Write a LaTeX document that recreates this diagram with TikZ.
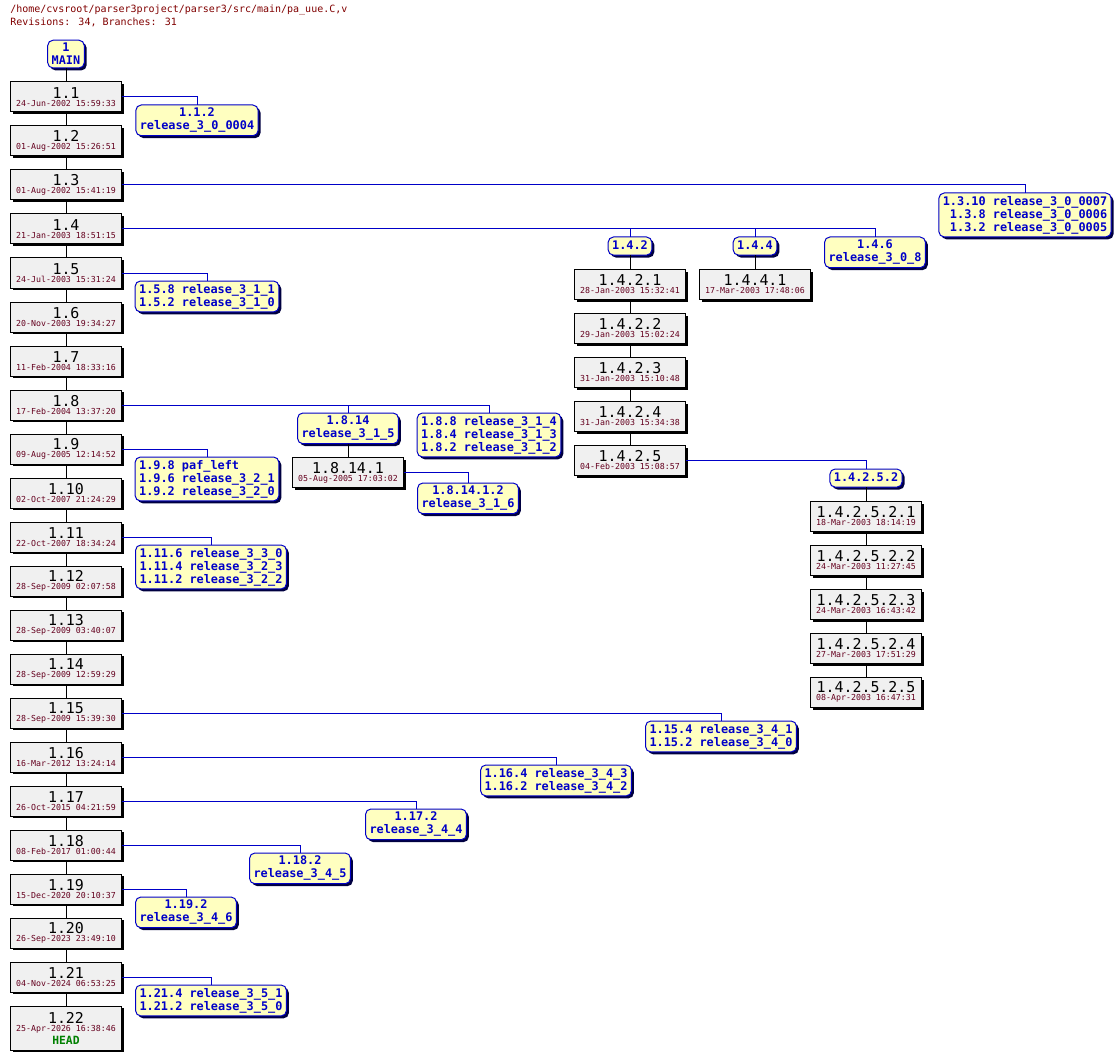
\documentclass[tikz,border=0pt]{standalone}
\usepackage{fontspec}
\setmainfont{DejaVu Sans Mono}
\usetikzlibrary{positioning,shadows}

\definecolor{revfill}{RGB}{240,240,240}
\definecolor{tagfill}{RGB}{255,255,192}
\definecolor{tagblue}{RGB}{0,0,200}
\definecolor{datered}{RGB}{100,0,30}
\definecolor{titlered}{RGB}{128,0,0}
\definecolor{headgreen}{RGB}{0,128,0}

\newcommand{\revtext}[2]{#1\\{\fontsize{6.2}{6}\selectfont\color{datered}#2}}

\begin{document}
\begin{tikzpicture}[
        x=0.75pt, y=-0.75pt,
        node distance=10.5pt,
        rev/.style={draw, fill=revfill, line width=0.75pt, outer sep=0pt,
            minimum width=83.25pt, minimum height=22.5pt, inner sep=1pt, align=center,
            font=\fontsize{11.2}{6.2}\selectfont,
            drop shadow={shadow xshift=1.8pt, shadow yshift=-1.8pt, opacity=1, fill=black}},
        tag/.style={draw=tagblue, fill=tagfill, text=tagblue, line width=0.75pt, outer sep=0pt,
            rounded corners=4pt, inner xsep=3pt, inner ysep=2.3pt, align=center, anchor=north,
            font=\fontsize{8.9}{9.75}\selectfont\bfseries,
            drop shadow={shadow xshift=1.8pt, shadow yshift=-1.8pt, opacity=1, fill=black!75!blue}},
        tagone/.style={tag, text height=6.8pt, text depth=2.2pt},
        taglist/.style={tag, align=left},
        trunk/.style={line width=0.75pt},
        branch/.style={draw=tagblue, line width=0.75pt}
    ]
        \useasboundingbox (0,0) rectangle (1120,1059);

        \node[anchor=north west, align=left, inner sep=0pt, text=titlered,
            font=\fontsize{7.5}{9.75}\selectfont] (title) at (10,5)
            {/home/cvsroot/parser3project/parser3/src/main/pa\_uue.C,v\\Revisions: 34, Branches: 31};

        \node[rev] (v1-1) at (66,97) {\revtext{1.1}{24-Jun-2002 15:59:33}};
        \node[tag, above=of v1-1] (main) {1\\MAIN};
        \node[rev, below=of v1-1] (v1-2) {\revtext{1.2}{01-Aug-2002 15:26:51}};
        \node[rev, below=of v1-2] (v1-3) {\revtext{1.3}{01-Aug-2002 15:41:19}};
        \node[rev, below=of v1-3] (v1-4) {\revtext{1.4}{21-Jan-2003 18:51:15}};
        \node[rev, below=of v1-4] (v1-5) {\revtext{1.5}{24-Jul-2003 15:31:24}};
        \node[rev, below=of v1-5] (v1-6) {\revtext{1.6}{20-Nov-2003 19:34:27}};
        \node[rev, below=of v1-6] (v1-7) {\revtext{1.7}{11-Feb-2004 18:33:16}};
        \node[rev, below=of v1-7] (v1-8) {\revtext{1.8}{17-Feb-2004 13:37:20}};
        \node[rev, below=of v1-8] (v1-9) {\revtext{1.9}{09-Aug-2005 12:14:52}};
        \node[rev, below=of v1-9] (v1-10) {\revtext{1.10}{02-Oct-2007 21:24:29}};
        \node[rev, below=of v1-10] (v1-11) {\revtext{1.11}{22-Oct-2007 18:34:24}};
        \node[rev, below=of v1-11] (v1-12) {\revtext{1.12}{28-Sep-2009 02:07:58}};
        \node[rev, below=of v1-12] (v1-13) {\revtext{1.13}{28-Sep-2009 03:40:07}};
        \node[rev, below=of v1-13] (v1-14) {\revtext{1.14}{28-Sep-2009 12:59:29}};
        \node[rev, below=of v1-14] (v1-15) {\revtext{1.15}{28-Sep-2009 15:39:30}};
        \node[rev, below=of v1-15] (v1-16) {\revtext{1.16}{16-Mar-2012 13:24:14}};
        \node[rev, below=of v1-16] (v1-17) {\revtext{1.17}{26-Oct-2015 04:21:59}};
        \node[rev, below=of v1-17] (v1-18) {\revtext{1.18}{08-Feb-2017 01:00:44}};
        \node[rev, below=of v1-18] (v1-19) {\revtext{1.19}{15-Dec-2020 20:10:37}};
        \node[rev, below=of v1-19] (v1-20) {\revtext{1.20}{26-Sep-2023 23:49:10}};
        \node[rev, below=of v1-20] (v1-21) {\revtext{1.21}{04-Nov-2024 06:53:25}};
        \node[rev, minimum height=33pt, below=of v1-21] (v1-22)
            {\revtext{1.22}{25-Apr-2026 16:38:46}\\[1pt]{\fontsize{8.5}{9}\selectfont\bfseries\color{headgreen}HEAD}};

        \node[tag] (b1-1-2) at (197,105) {1.1.2\\release\_3\_0\_0004};
        \node[taglist] (b1-3-10) at (1025,193)
            {1.3.10 release\_3\_0\_0007\\\hphantom{1}1.3.8 release\_3\_0\_0006\\\hphantom{1}1.3.2 release\_3\_0\_0005};
        \node[tagone] (b1-4-2) at (630,237) {1.4.2};
        \node[tagone] (b1-4-4) at (755,237) {1.4.4};
        \node[tag] (b1-4-6) at (875,237) {1.4.6\\release\_3\_0\_8};
        \node[taglist] (b1-5-8) at (207,281) {1.5.8 release\_3\_1\_1\\1.5.2 release\_3\_1\_0};
        \node[tag] (b1-8-14) at (348,413) {1.8.14\\release\_3\_1\_5};
        \node[taglist] (b1-8-8) at (489,413)
            {1.8.8 release\_3\_1\_4\\1.8.4 release\_3\_1\_3\\1.8.2 release\_3\_1\_2};
        \node[taglist] (b1-9-8) at (207,457)
            {1.9.8 paf\_left\\1.9.6 release\_3\_2\_1\\1.9.2 release\_3\_2\_0};
        \node[taglist] (b1-11-6) at (211,545)
            {1.11.6 release\_3\_3\_0\\1.11.4 release\_3\_2\_3\\1.11.2 release\_3\_2\_2};
        \node[taglist] (b1-15-4) at (721,721) {1.15.4 release\_3\_4\_1\\1.15.2 release\_3\_4\_0};
        \node[taglist] (b1-16-4) at (556,765) {1.16.4 release\_3\_4\_3\\1.16.2 release\_3\_4\_2};
        \node[tag] (b1-17-2) at (416,809) {1.17.2\\release\_3\_4\_4};
        \node[tag] (b1-18-2) at (300,853) {1.18.2\\release\_3\_4\_5};
        \node[tag] (b1-19-2) at (186,897) {1.19.2\\release\_3\_4\_6};
        \node[taglist] (b1-21-4) at (211,985) {1.21.4 release\_3\_5\_1\\1.21.2 release\_3\_5\_0};

        \node[rev, below=of b1-4-2] (v1-4-2-1) {\revtext{1.4.2.1}{28-Jan-2003 15:32:41}};
        \node[rev, below=of v1-4-2-1] (v1-4-2-2) {\revtext{1.4.2.2}{29-Jan-2003 15:02:24}};
        \node[rev, below=of v1-4-2-2] (v1-4-2-3) {\revtext{1.4.2.3}{31-Jan-2003 15:10:48}};
        \node[rev, below=of v1-4-2-3] (v1-4-2-4) {\revtext{1.4.2.4}{31-Jan-2003 15:34:38}};
        \node[rev, below=of v1-4-2-4] (v1-4-2-5) {\revtext{1.4.2.5}{04-Feb-2003 15:08:57}};
        \node[rev, below=of b1-4-4] (v1-4-4-1) {\revtext{1.4.4.1}{17-Mar-2003 17:48:06}};
        \node[rev, below=of b1-8-14] (v1-8-14-1) {\revtext{1.8.14.1}{05-Aug-2005 17:03:02}};
        \node[tag] (b1-8-14-1-2) at (468,483) {1.8.14.1.2\\release\_3\_1\_6};
        \node[tagone] (b1-4-2-5-2) at (866,469) {1.4.2.5.2};
        \node[rev, below=of b1-4-2-5-2] (v1-4-2-5-2-1) {\revtext{1.4.2.5.2.1}{18-Mar-2003 18:14:19}};
        \node[rev, below=of v1-4-2-5-2-1] (v1-4-2-5-2-2) {\revtext{1.4.2.5.2.2}{24-Mar-2003 11:27:45}};
        \node[rev, below=of v1-4-2-5-2-2] (v1-4-2-5-2-3) {\revtext{1.4.2.5.2.3}{24-Mar-2003 16:43:42}};
        \node[rev, below=of v1-4-2-5-2-3] (v1-4-2-5-2-4) {\revtext{1.4.2.5.2.4}{27-Mar-2003 17:51:29}};
        \node[rev, below=of v1-4-2-5-2-4] (v1-4-2-5-2-5) {\revtext{1.4.2.5.2.5}{08-Apr-2003 16:47:31}};

        \draw[trunk] (main) -- (v1-1) -- (v1-2) -- (v1-3) -- (v1-4) -- (v1-5) -- (v1-6) -- (v1-7)
            -- (v1-8) -- (v1-9) -- (v1-10) -- (v1-11) -- (v1-12) -- (v1-13) -- (v1-14) -- (v1-15)
            -- (v1-16) -- (v1-17) -- (v1-18) -- (v1-19) -- (v1-20) -- (v1-21) -- (v1-22);
        \draw[trunk] (b1-4-2) -- (v1-4-2-1) -- (v1-4-2-2) -- (v1-4-2-3) -- (v1-4-2-4) -- (v1-4-2-5);
        \draw[trunk] (b1-4-4) -- (v1-4-4-1);
        \draw[trunk] (b1-8-14) -- (v1-8-14-1);
        \draw[trunk] (b1-4-2-5-2) -- (v1-4-2-5-2-1) -- (v1-4-2-5-2-2) -- (v1-4-2-5-2-3)
            -- (v1-4-2-5-2-4) -- (v1-4-2-5-2-5);

        \draw[branch] (v1-1) -| (b1-1-2);
        \draw[branch] (v1-3) -| (b1-3-10);
        \draw[branch] (v1-4) -| (b1-4-6);
        \draw[branch] (v1-4) -| (b1-4-4);
        \draw[branch] (v1-4) -| (b1-4-2);
        \draw[branch] (v1-5) -| (b1-5-8);
        \draw[branch] (v1-8) -| (b1-8-8);
        \draw[branch] (v1-8) -| (b1-8-14);
        \draw[branch] (v1-8-14-1) -| (b1-8-14-1-2);
        \draw[branch] (v1-4-2-5) -| (b1-4-2-5-2);
        \draw[branch] (v1-9) -| (b1-9-8);
        \draw[branch] (v1-11) -| (b1-11-6);
        \draw[branch] (v1-15) -| (b1-15-4);
        \draw[branch] (v1-16) -| (b1-16-4);
        \draw[branch] (v1-17) -| (b1-17-2);
        \draw[branch] (v1-18) -| (b1-18-2);
        \draw[branch] (v1-19) -| (b1-19-2);
        \draw[branch] (v1-21) -| (b1-21-4);
    \end{tikzpicture}
\end{document}
